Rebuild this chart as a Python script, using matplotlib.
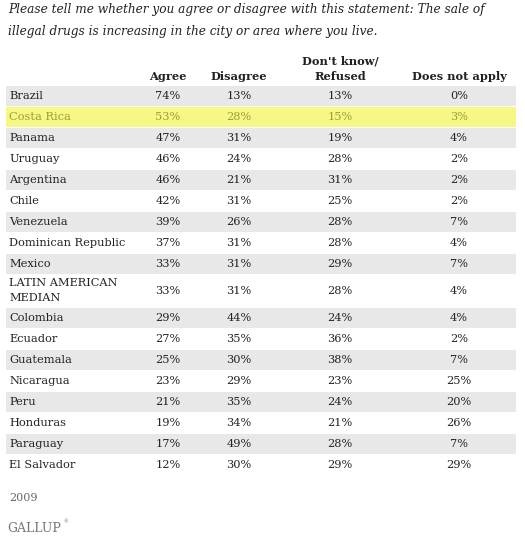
import matplotlib.pyplot as plt
from matplotlib.patches import Rectangle

# dados da tabela (Gallup 2009)
countries = ['Brazil', 'Costa Rica', 'Panama', 'Uruguay', 'Argentina', 'Chile',
             'Venezuela', 'Dominican Republic', 'Mexico',
             'LATIN AMERICAN\nMEDIAN', 'Colombia', 'Ecuador', 'Guatemala',
             'Nicaragua', 'Peru', 'Honduras', 'Paraguay', 'El Salvador']
agree = [74, 53, 47, 46, 46, 42, 39, 37, 33, 33, 29, 27, 25, 23, 21, 19, 17, 12]
disagree = [13, 28, 31, 24, 21, 31, 26, 31, 31, 31, 44, 35, 30, 29, 35, 34, 49, 30]
dont_know = [13, 15, 19, 28, 31, 25, 28, 28, 29, 28, 24, 36, 38, 23, 24, 21, 28, 29]
not_apply = [0, 3, 4, 2, 2, 2, 7, 4, 7, 4, 4, 2, 7, 25, 20, 26, 7, 29]
headers = ['Agree', 'Disagree', "Don't know/\nRefused", 'Does not apply']
highlight = 'Costa Rica'

title = ('Please tell me whether you agree or disagree with this statement: The sale of\n'
         'illegal drugs is increasing in the city or area where you live.')

W, H = 525, 542
fig = plt.figure(figsize=(W / 100, H / 100), dpi=100)
ax = fig.add_axes([0, 0, 1, 1])
ax.set_xlim(0, W)
ax.set_ylim(H, 0)
ax.axis('off')

serif = 'DejaVu Serif'
fs = 8.2
col_x = [168, 239, 340, 459]

ax.text(8, 21, title, ha='left', va='center', fontsize=8.7, style='italic',
        family=serif, color='#222222', linespacing=1.9)

for x, h in zip(col_x, headers):
    ax.text(x, 82, h, ha='center', va='bottom', fontsize=fs, weight='bold',
            family=serif, color='#222222', linespacing=1.45)

y = 86
for i, c in enumerate(countries):
    rh = 33 if '\n' in c else 21
    if c == highlight:
        bg, tc = '#f7f785', '#9c9c3a'
    elif i % 2 == 0:
        bg, tc = '#e8e8e8', '#222222'
    else:
        bg, tc = 'white', '#222222'
    ax.add_patch(Rectangle((6, y), 510, rh - 1.5, facecolor=bg, edgecolor='none'))
    yc = y + (rh - 1.5) / 2
    ax.text(9, yc, c, ha='left', va='center', fontsize=fs, family=serif,
            color=tc, linespacing=1.6)
    vals = [agree[i], disagree[i], dont_know[i], not_apply[i]]
    for x, v in zip(col_x, vals):
        ax.text(x, yc, f'{v}%', ha='center', va='center', fontsize=fs,
                family=serif, color=tc)
    y += rh

ax.text(9, 498, '2009', ha='left', va='center', fontsize=8, family=serif,
        color='#666666')
ax.text(7, 528, 'GALLUP', ha='left', va='center', fontsize=9, family=serif,
        color='#777777')
ax.text(63, 522, '®', ha='left', va='center', fontsize=3.5, family=serif,
        color='#777777')

fig.savefig('out.png', dpi=100)
